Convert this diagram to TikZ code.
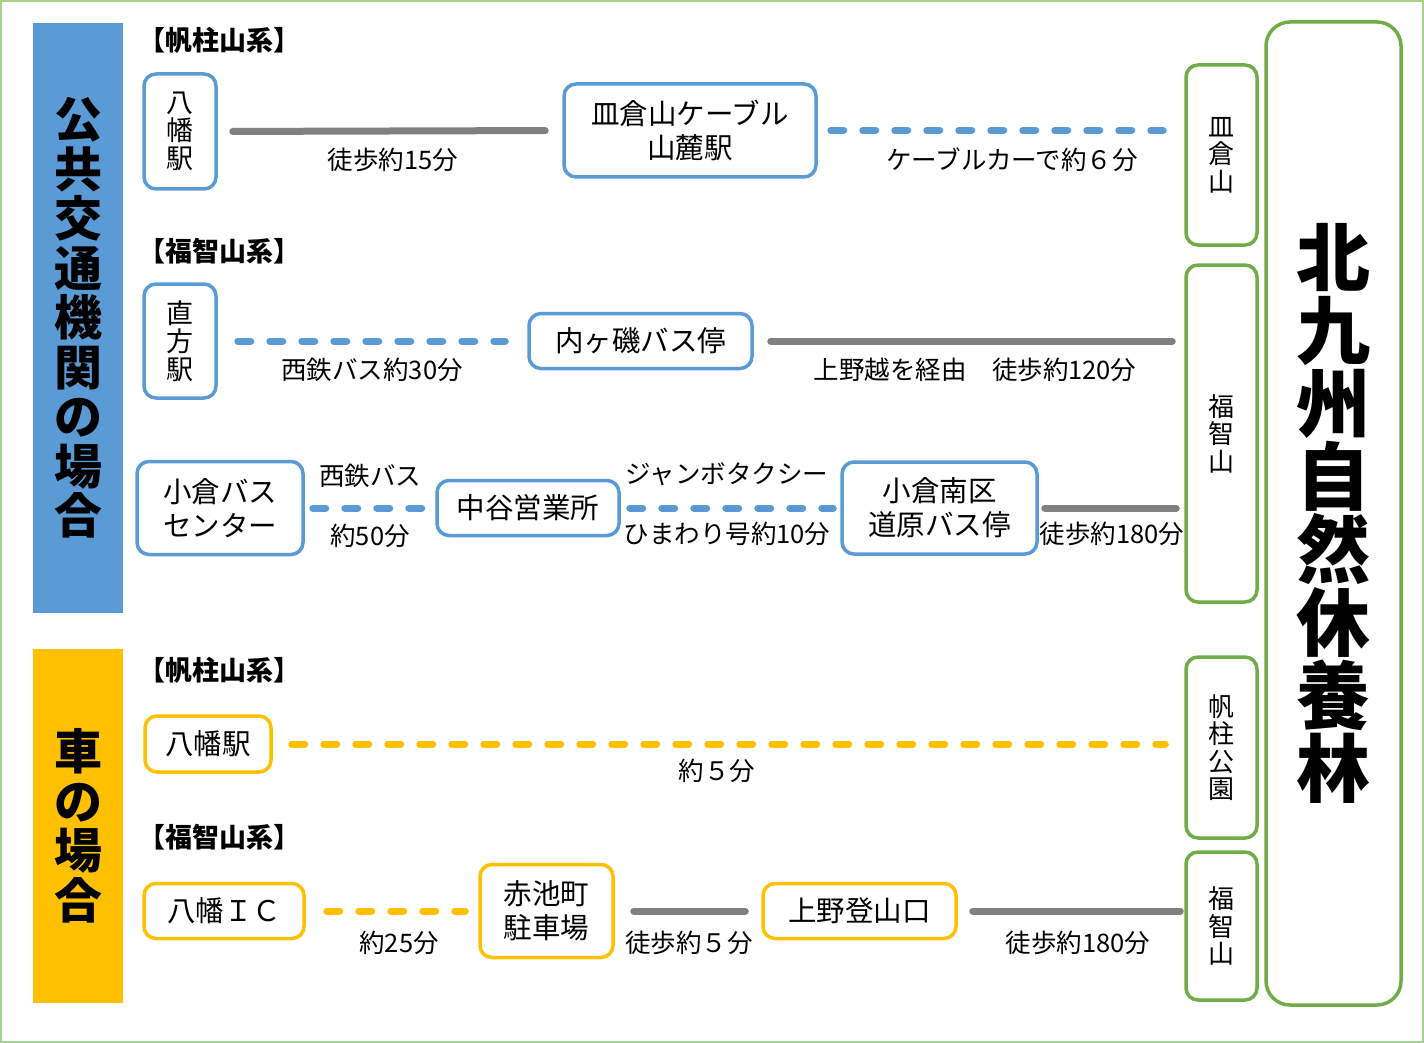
\documentclass[tikz,border=0pt]{standalone}
\usepackage{fontspec}
\setmainfont{Noto Sans CJK JP}
\definecolor{route-blue}{HTML}{5B9BD5}
\definecolor{route-yellow}{HTML}{FFC000}
\definecolor{goal-green}{HTML}{70AD47}
\definecolor{walk-gray}{HTML}{808080}
\definecolor{frame-green}{HTML}{A9D18E}

\begin{document}
\begin{tikzpicture}[x=1pt, y=-1pt,
        stopbox/.style={draw=route-blue, fill=white, line width=3.5pt, rounded corners=12pt,
            align=center, inner sep=0pt, font=\fontsize{28.5}{34}\selectfont},
        carbox/.style={stopbox, draw=route-yellow},
        tatebox/.style={font=\fontsize{27}{28}\selectfont},
        goalbox/.style={stopbox, draw=goal-green, font=\fontsize{26}{27.5}\selectfont},
        sidebar/.style={inner sep=0pt, align=center, font=\bfseries\fontsize{48}{49.5}\selectfont},
        grouphead/.style={anchor=west, inner sep=0pt, font=\bfseries\fontsize{27}{27}\selectfont},
        timelabel/.style={inner sep=0pt, font=\fontsize{25.5}{25.5}\selectfont},
        walkline/.style={walk-gray, line width=7pt, line cap=round},
        busline/.style={route-blue, line width=7pt, line cap=round, dash pattern=on 13pt off 19pt},
        carline/.style={busline, route-yellow}]
        \useasboundingbox (0, 0) rectangle (1424, 1043);
        % Outer frame
        \draw [frame-green, line width=2pt] (1, 1) rectangle (1423, 1042);
        % Public transport bar
        \node [sidebar, fill=route-blue, minimum width=90pt, minimum height=590pt] (public) at (78, 318)
            {公\\共\\交\\通\\機\\関\\の\\場\\合};
        % Car bar
        \node [sidebar, fill=route-yellow, minimum width=90pt, minimum height=354pt] (car) at (78, 826)
            {車\\の\\場\\合};
        % Goal box
        \node [goalbox, rounded corners=24pt, minimum width=135pt, minimum height=983pt,
            font=\bfseries\fontsize{74}{73}\selectfont] (goal) at (1333.5, 513.5)
            {北\\九\\州\\自\\然\\休\\養\\林};
        % Summit boxes
        \node [goalbox, minimum width=71pt, minimum height=180pt] (sara) at (1221.5, 155) {皿\\倉\\山};
        \node [goalbox, minimum width=71pt, minimum height=337pt] (fuku) at (1221.5, 433.5) {福\\智\\山};
        \node [goalbox, minimum width=71pt, minimum height=181pt] (hoba) at (1221.5, 747.5) {帆\\柱\\公\\園};
        \node [goalbox, minimum width=71pt, minimum height=148pt] (fukucar) at (1221.5, 926) {福\\智\\山};

        % Group headers
        \node [grouphead] (hd1) at (138, 40) {【帆柱山系】};
        \node [grouphead] (hd2) at (138, 251) {【福智山系】};
        \node [grouphead] (hd3) at (138, 670) {【帆柱山系】};
        \node [grouphead] (hd4) at (138, 837) {【福智山系】};

        % Hobashira by train
        \node [stopbox, tatebox, minimum width=72pt, minimum height=115pt] (yahata) at (180, 131.5) {八\\幡\\駅};
        \node [stopbox, minimum width=252pt, minimum height=93pt] (cable) at (690, 130.5) {皿倉山ケーブル\\山麓駅};
        \draw [walkline, shorten <=15pt, shorten >=17pt] (yahata.east) -- (cable.west);
        \node [timelabel] (t1) at (393, 160) {徒歩約15分};
        \draw [busline, shorten <=13pt, shorten >=21pt] (cable.east) -- (cable.east -| sara.west);
        \node [timelabel] (t2) at (1012, 160) {ケーブルカーで約６分};

        % Fukuchi by bus
        \node [stopbox, tatebox, minimum width=72pt, minimum height=114pt] (nogata) at (180, 341) {直\\方\\駅};
        \node [stopbox, minimum width=223pt, minimum height=55pt] (uchi) at (640.5, 341) {内ヶ磯バス停};
        \draw [busline, shorten <=20pt, shorten >=22pt] (nogata.east) -- (uchi.west);
        \node [timelabel] (t3) at (372, 370) {西鉄バス約30分};
        \draw [walkline, shorten <=17pt, shorten >=12pt] (uchi.east) -- (uchi.east -| fuku.west);
        \node [timelabel] (t4) at (975, 370) {上野越を経由　徒歩約120分};

        % Fukuchi via Kokura
        \node [stopbox, minimum width=166pt, minimum height=93pt] (kokura) at (220, 508) {小倉バス\\センター};
        \node [stopbox, minimum width=182pt, minimum height=55pt] (naka) at (528, 508) {中谷営業所};
        \node [stopbox, minimum width=195pt, minimum height=92pt] (michi) at (939.5, 508) {小倉南区\\道原バス停};
        \draw [busline, shorten <=8pt, shorten >=12pt] (kokura.east) -- (naka.west);
        \node [timelabel] (t5) at (370, 476) {西鉄バス};
        \node [timelabel] (t6) at (370, 536) {約50分};
        \draw [busline, shorten <=9pt, shorten >=7pt] (naka.east) -- (michi.west);
        \node [timelabel] (t7) at (727, 474) {ジャンボタクシー};
        \node [timelabel] (t8) at (727, 534) {ひまわり号約10分};
        \draw [walkline, shorten <=6pt, shorten >=8pt] (michi.east) -- (michi.east -| fuku.west);
        \node [timelabel] (t9) at (1112, 534) {徒歩約180分};

        % Hobashira by car
        \node [carbox, minimum width=126pt, minimum height=56pt] (yahatacar) at (208, 744) {八幡駅};
        \draw [carline, shorten <=19pt, shorten >=19pt] (yahatacar.east) -- (yahatacar.east -| hoba.west);
        \node [timelabel] (t10) at (717, 771) {約５分};

        % Fukuchi by car
        \node [carbox, minimum width=160pt, minimum height=55pt] (ic) at (224, 911) {八幡ＩＣ};
        \node [carbox, minimum width=133pt, minimum height=93pt] (akaike) at (546.5, 911) {赤池町\\駐車場};
        \node [carbox, minimum width=193pt, minimum height=55pt] (kamino) at (859.5, 911) {上野登山口};
        \draw [carline, shorten <=21pt, shorten >=13pt] (ic.east) -- (akaike.west);
        \node [timelabel] (t11) at (399, 943) {約25分};
        \draw [walkline, shorten <=19pt, shorten >=16pt] (akaike.east) -- (kamino.west);
        \node [timelabel] (t12) at (689, 943) {徒歩約５分};
        \draw [walkline, shorten <=15pt, shorten >=4pt] (kamino.east) -- (kamino.east -| fukucar.west);
        \node [timelabel] (t13) at (1078, 943) {徒歩約180分};
    \end{tikzpicture}
\end{document}
